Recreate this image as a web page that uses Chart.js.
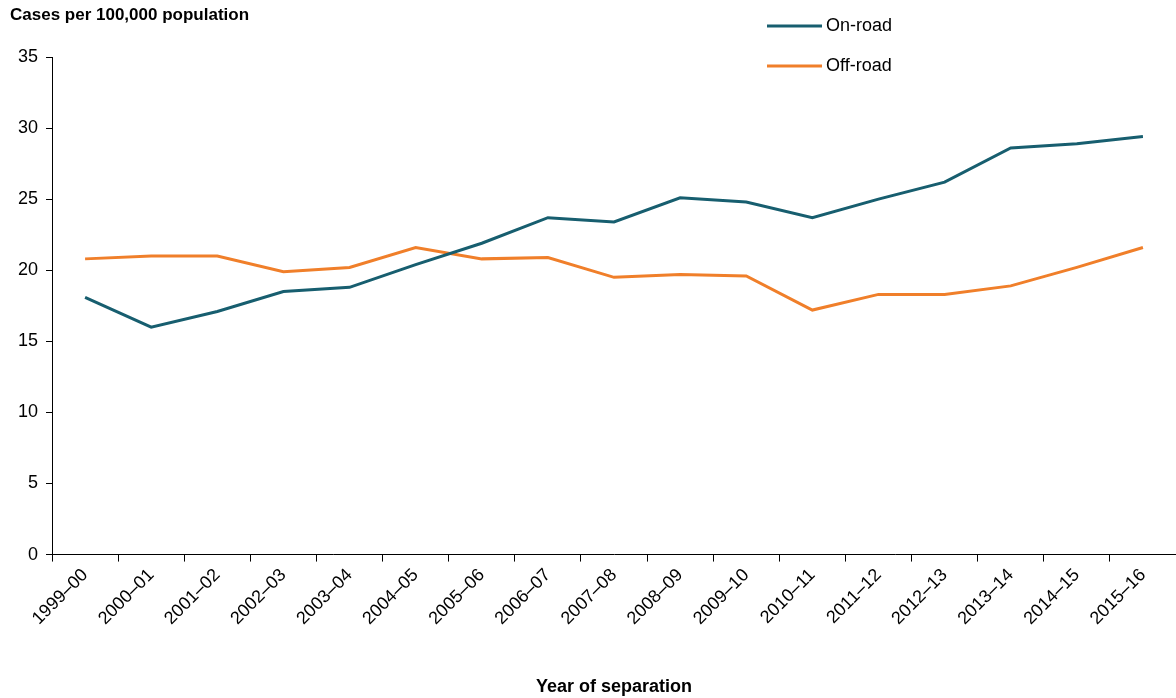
<!DOCTYPE html>
<html><head><meta charset="utf-8">
<script src="https://cdn.jsdelivr.net/npm/chart.js@4"></script>
<style>body{margin:0;background:#fff}</style>
</head><body><canvas id="c" width="1176" height="698"></canvas>
<script>
const categories=["1999–00","2000–01","2001–02","2002–03","2003–04","2004–05","2005–06","2006–07","2007–08","2008–09","2009–10","2010–11","2011–12","2012–13","2013–14","2014–15","2015–16"];
const onRoad=[18.1,16.0,17.1,18.5,18.8,20.4,21.9,23.7,23.4,25.1,24.8,23.7,25.0,26.2,28.6,28.9,29.4];
const offRoad=[20.8,21.0,21.0,19.9,20.2,21.6,20.8,20.9,19.5,19.7,19.6,17.2,18.3,18.3,18.9,20.2,21.6];
const F="'Liberation Sans', Arial, sans-serif";
const legendPlugin={id:'lg',afterDraw(ch){const c=ch.ctx;c.save();c.font="18px "+F;c.textBaseline='middle';
ch.data.datasets.forEach((d,i)=>{const y=26+i*40;c.strokeStyle=d.borderColor;c.lineWidth=3;c.beginPath();c.moveTo(767,y);c.lineTo(822,y);c.stroke();c.fillStyle='#000';c.fillText(d.label,826,y);});
c.font="bold 17px "+F;c.textBaseline='alphabetic';c.fillStyle='#000';c.fillText("Cases per 100,000 population",10,20);c.restore();}};
new Chart(document.getElementById('c'),{type:'line',
data:{labels:categories,datasets:[
{label:'On-road',data:onRoad,borderColor:'#175E6F',borderWidth:3,pointRadius:0,tension:0},
{label:'Off-road',data:offRoad,borderColor:'#F07F2A',borderWidth:3,pointRadius:0,tension:0}]},
options:{responsive:false,animation:false,devicePixelRatio:1,
layout:{padding:{top:57,right:0,left:10,bottom:0}},
plugins:{legend:{display:false},tooltip:{enabled:false}},
scales:{
x:{offset:true,grid:{display:true,drawOnChartArea:false,offset:true,color:'#000',tickLength:7},border:{color:'#000'},
ticks:{color:'#000',font:{family:F,size:18},maxRotation:45,minRotation:45,autoSkip:false},
title:{display:true,text:'Year of separation',color:'#000',font:{family:F,size:18,weight:'bold'},padding:{top:44,bottom:0}}},
y:{min:0,max:35,ticks:{stepSize:5,color:'#000',font:{family:F,size:18},padding:8},grid:{drawOnChartArea:false,color:'#000',tickLength:6},border:{color:'#000'}}}},
plugins:[legendPlugin]});
</script>
</body></html>
